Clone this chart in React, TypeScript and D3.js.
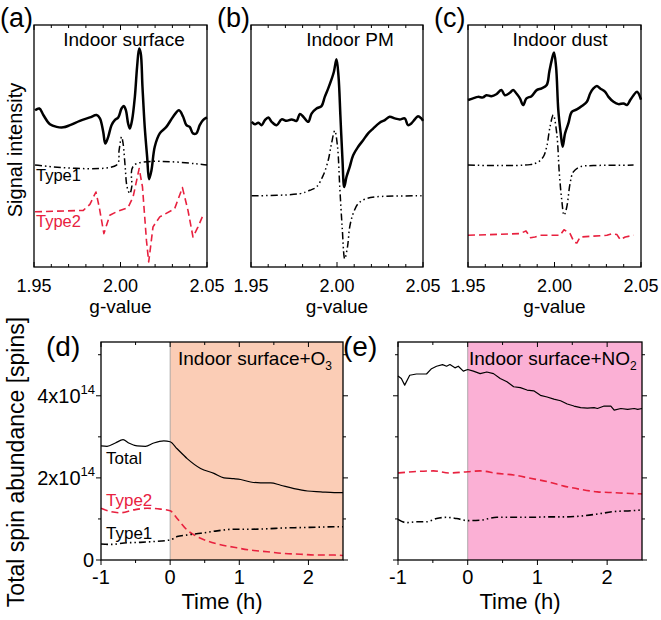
import React from 'react';
import * as d3 from 'd3';

// ---------- Data ----------
// Top panels: g-value vs. signal intensity (arbitrary units, 0-100)
const gTicks = [1.95, 2.0, 2.05];
const gTickLabels = ['1.95', '2.00', '2.05'];
const gMinor = [1.96, 1.97, 1.98, 1.99, 2.01, 2.02, 2.03, 2.04];

const aTotal: [number, number][] = [
  [1.9506, 64.8], [1.9531, 65.5], [1.9554, 62.8], [1.9592, 59.0], [1.9631, 57.9], [1.9669, 57.7],
  [1.9708, 58.6], [1.9765, 60.4], [1.9823, 61.8], [1.9862, 62.8], [1.9881, 61.4], [1.99, 55.9],
  [1.9912, 51.0], [1.9929, 53.8], [1.9948, 58.6], [1.9967, 60.7], [1.9987, 61.8], [2.0006, 65.5],
  [2.0019, 66.5], [2.0031, 64.8], [2.0044, 59.3], [2.0054, 57.2], [2.0067, 60.7], [2.0083, 70.3],
  [2.0096, 82.8], [2.0108, 90.3], [2.0117, 88.3], [2.0127, 74.5], [2.014, 57.9], [2.0154, 45.5],
  [2.0165, 36.3], [2.0179, 40.0], [2.0198, 49.7], [2.0227, 55.2], [2.0265, 57.9], [2.0304, 62.1],
  [2.0338, 64.8], [2.0362, 62.1], [2.0381, 58.6], [2.04, 57.9], [2.0419, 55.2], [2.0438, 55.2],
  [2.0458, 58.6], [2.0477, 60.7], [2.05, 61.8],
];
const aType1: [number, number][] = [
  [1.9506, 42.1], [1.9977, 42.1], [1.9992, 48.3], [2.0006, 53.8], [2.0015, 51.0], [2.0027, 41.4],
  [2.0038, 33.1], [2.0054, 30.3], [2.0065, 33.1], [2.0079, 42.1], [2.05, 42.1],
];
const aType2: [number, number][] = [
  [1.9506, 22.8], [1.9785, 23.4], [1.9823, 25.9], [1.9858, 31.0], [1.9877, 24.8], [1.9904, 13.8],
  [1.9938, 21.4], [1.9977, 22.8], [2.0044, 24.6], [2.0073, 29.0], [2.0108, 40.7], [2.0127, 33.1],
  [2.015, 11.0], [2.0163, 2.1], [2.0188, 16.6], [2.0227, 20.7], [2.0313, 24.1], [2.0358, 32.8],
  [2.039, 23.4], [2.0419, 12.4], [2.0448, 16.6], [2.0473, 20.7],
];

const bTotal: [number, number][] = [
  [1.9504, 60.0], [1.9523, 59.0], [1.9543, 59.6], [1.9562, 58.6], [1.9581, 60.7], [1.9601, 61.8],
  [1.962, 60.0], [1.9649, 58.6], [1.9678, 61.0], [1.9707, 60.4], [1.9736, 61.0], [1.9765, 60.4],
  [1.9784, 63.2], [1.9804, 62.1], [1.9833, 60.0], [1.9852, 63.4], [1.9881, 65.5], [1.991, 66.5],
  [1.9929, 70.3], [1.9949, 73.8], [1.9968, 77.5], [1.9982, 80.7], [1.9997, 85.8], [2.0009, 78.6],
  [2.002, 62.1], [2.0032, 44.1], [2.0042, 33.1], [2.0055, 37.2], [2.0074, 41.4], [2.0094, 46.2],
  [2.0123, 49.7], [2.0152, 52.4], [2.0181, 55.2], [2.021, 57.2], [2.0248, 59.6], [2.0278, 60.7],
  [2.0306, 62.1], [2.0336, 61.4], [2.0365, 61.0], [2.0394, 61.4], [2.0413, 58.6], [2.0432, 59.3],
  [2.0452, 61.0], [2.0471, 62.3], [2.049, 61.4], [2.05, 60.4],
];
const bType1: [number, number][] = [
  [1.9504, 29.4], [1.9784, 30.3], [1.9842, 31.7], [1.9881, 33.1], [1.992, 37.9], [1.9949, 44.1],
  [1.9968, 51.0], [1.9987, 56.3], [2.0003, 49.7], [2.0016, 33.1], [2.003, 16.6], [2.0045, 3.4],
  [2.0061, 8.3], [2.0074, 16.6], [2.0094, 22.1], [2.0123, 26.2], [2.0161, 28.0], [2.0229, 29.0],
  [2.05, 29.4],
];

const cTotal: [number, number][] = [
  [1.95, 69.0], [1.9529, 69.7], [1.9558, 70.3], [1.9587, 70.1], [1.9606, 71.0], [1.9635, 70.6],
  [1.9664, 71.4], [1.9693, 73.1], [1.9713, 71.0], [1.9742, 72.0], [1.9761, 73.1], [1.978, 71.7],
  [1.98, 69.7], [1.9819, 66.9], [1.9838, 69.7], [1.9867, 70.6], [1.9897, 73.1], [1.9926, 73.8],
  [1.9955, 75.2], [1.997, 80.7], [1.9984, 85.5], [1.9997, 88.6], [2.0009, 82.8], [2.0022, 64.8],
  [2.0036, 55.2], [2.0047, 49.7], [2.0061, 55.2], [2.008, 59.3], [2.01, 64.1], [2.0129, 65.1],
  [2.0158, 66.5], [2.0187, 68.3], [2.0206, 71.7], [2.0225, 73.8], [2.0245, 74.8], [2.0264, 73.8],
  [2.0293, 72.4], [2.0312, 70.3], [2.0341, 68.3], [2.037, 67.3], [2.0399, 67.6], [2.0419, 66.9],
  [2.0438, 69.0], [2.0457, 71.0], [2.0477, 72.4], [2.05, 69.2],
];
const cType1: [number, number][] = [
  [1.95, 42.1], [1.9858, 42.3], [1.9906, 43.4], [1.9935, 45.5], [1.9955, 49.7], [1.9974, 57.9],
  [1.9993, 62.8], [2.0013, 55.2], [2.0028, 38.6], [2.0042, 27.6], [2.0055, 21.4], [2.0071, 24.8],
  [2.009, 34.5], [2.0109, 39.3], [2.0148, 41.4], [2.0225, 41.9], [2.0457, 42.1],
];
const cType2: [number, number][] = [
  [1.95, 13.1], [1.98, 13.8], [1.9835, 14.9], [1.9862, 12.1], [1.9887, 12.4], [1.9916, 13.1],
  [2.0032, 13.1], [2.0055, 15.4], [2.009, 13.8], [2.0113, 10.3], [2.0129, 9.9], [2.0148, 12.4],
  [2.0303, 13.1], [2.0332, 13.8], [2.0361, 13.4], [2.038, 11.3], [2.0409, 12.4], [2.0457, 13.1],
];

// Bottom panels: time (h) vs spin abundance (x10^14 spins)
const timeTicks = [-1, 0, 1, 2];
const timeMinor = [-0.5, 0.5, 1.5];
const spinTicks = [0, 2, 4];
const spinMinor = [1, 3, 5];

const dTotal: [number, number][] = [
  [-1, 2.78], [-0.913, 2.77], [-0.792, 2.85], [-0.681, 2.93], [-0.599, 2.85], [-0.478, 2.78],
  [-0.357, 2.77], [-0.237, 2.85], [-0.092, 2.9], [0, 2.88], [0.101, 2.71], [0.246, 2.47],
  [0.44, 2.23], [0.633, 2.11], [0.778, 2.0], [0.923, 1.98], [1.019, 1.96], [1.164, 1.9],
  [1.309, 1.88], [1.454, 1.88], [1.599, 1.82], [1.792, 1.74], [1.986, 1.68], [2.179, 1.66],
  [2.372, 1.64], [2.5, 1.64],
];
const dType2: [number, number][] = [
  [-1, 1.26], [-0.865, 1.18], [-0.72, 1.15], [-0.527, 1.22], [-0.333, 1.26], [-0.14, 1.24],
  [0, 1.2], [0.101, 1.01], [0.246, 0.73], [0.44, 0.53], [0.681, 0.39], [0.923, 0.31],
  [1.164, 0.24], [1.406, 0.2], [1.647, 0.16], [1.889, 0.14], [2.13, 0.12], [2.372, 0.12], [2.5, 0.11],
];
const dType1: [number, number][] = [
  [-1, 0.39], [-0.865, 0.38], [-0.623, 0.42], [-0.43, 0.43], [-0.237, 0.45], [0, 0.49],
  [0.101, 0.57], [0.246, 0.61], [0.44, 0.65], [0.681, 0.71], [0.923, 0.75], [1.164, 0.75],
  [1.406, 0.76], [1.647, 0.78], [1.889, 0.79], [2.13, 0.8], [2.372, 0.81], [2.5, 0.81],
];

const eTotal: [number, number][] = [
  [-1, 4.48], [-0.952, 4.42], [-0.904, 4.26], [-0.832, 4.5], [-0.736, 4.53], [-0.591, 4.53],
  [-0.519, 4.66], [-0.447, 4.72], [-0.361, 4.76], [-0.303, 4.72], [-0.255, 4.76], [-0.183, 4.68],
  [-0.135, 4.72], [-0.063, 4.6], [0, 4.64], [0.082, 4.6], [0.178, 4.54], [0.274, 4.58],
  [0.37, 4.54], [0.466, 4.42], [0.563, 4.34], [0.659, 4.22], [0.755, 4.2], [0.851, 4.14],
  [0.947, 4.12], [1.043, 4.01], [1.139, 3.97], [1.236, 3.92], [1.332, 3.88], [1.428, 3.8],
  [1.524, 3.75], [1.62, 3.71], [1.716, 3.7], [1.813, 3.71], [1.861, 3.69], [1.957, 3.75],
  [2.053, 3.75], [2.101, 3.65], [2.197, 3.69], [2.293, 3.67], [2.389, 3.69], [2.438, 3.67], [2.5, 3.69],
];
const eType2: [number, number][] = [
  [-1, 2.12], [-0.784, 2.15], [-0.495, 2.17], [-0.255, 2.12], [0, 2.15], [0.178, 2.17],
  [0.418, 2.11], [0.659, 2.07], [0.899, 1.99], [1.139, 1.91], [1.38, 1.8], [1.62, 1.72],
  [1.861, 1.66], [2.101, 1.64], [2.341, 1.62], [2.5, 1.61],
];
const eType1: [number, number][] = [
  [-1, 0.99], [-0.88, 0.91], [-0.736, 0.93], [-0.591, 0.93], [-0.447, 1.01], [-0.303, 1.04],
  [-0.159, 1.01], [0, 0.96], [0.178, 0.97], [0.418, 1.04], [0.659, 1.04], [0.899, 1.04],
  [1.139, 1.05], [1.38, 1.05], [1.62, 1.07], [1.861, 1.12], [2.101, 1.18], [2.341, 1.2], [2.5, 1.22],
];

// ---------- Styles ----------
const FONT = '"Liberation Sans", Arial, sans-serif';
const RED = '#e8213f';
const DASH = '7,4';
const DASHDOTDOT = '7,3,1.5,3,1.5,3';

type Series = { data: [number, number][]; color: string; width: number; dash?: string; curve?: any };
type Note = { text: string; x: number; y: number; color: string };

function SpecPanel(props: {
  x0: number; x1: number; label: string; title: string; series: Series[];
  titleX: number; annotations?: Note[];
}) {
  const { x0, x1, label, title, series, titleX, annotations } = props;
  const y0 = 25, y1 = 267;
  const xs = d3.scaleLinear().domain([1.95, 2.05]).range([x0, x1]);
  const ys = d3.scaleLinear().domain([0, 100]).range([y1, y0]);
  const all = [...gTicks, ...gMinor];
  return (
    <g>
      {series.map((s, i) => {
        const line = d3.line<[number, number]>().x(d => xs(d[0])).y(d => ys(d[1])).curve(s.curve || d3.curveLinear);
        return <path key={i} d={line(s.data) || ''} fill="none" stroke={s.color} strokeWidth={s.width}
          strokeDasharray={s.dash} strokeLinejoin="round" />;
      })}
      <rect x={x0} y={y0} width={x1 - x0} height={y1 - y0} fill="none" stroke="#000" strokeWidth={1.3} />
      {all.map((t, i) => {
        const major = gTicks.includes(t);
        const L = major ? 5 : 3;
        return (
          <g key={i}>
            <line x1={xs(t)} x2={xs(t)} y1={y1} y2={y1 - L} stroke="#000" strokeWidth={1} />
            <line x1={xs(t)} x2={xs(t)} y1={y0} y2={y0 + L} stroke="#000" strokeWidth={1} />
          </g>
        );
      })}
      {gTicks.map((t, i) => (
        <text key={i} x={xs(t)} y={292} textAnchor="middle" fontSize={18} fontFamily={FONT}>{gTickLabels[i]}</text>
      ))}
      <text x={(x0 + x1) / 2} y={313} textAnchor="middle" fontSize={19} fontFamily={FONT}>g-value</text>
      <text x={titleX} y={46} textAnchor="middle" fontSize={19} fontFamily={FONT}>{title}</text>
      <text x={x0 - 34} y={27} fontSize={27} fontFamily={FONT}>{label}</text>
      {(annotations || []).map((a, i) => (
        <text key={i} x={a.x} y={a.y} fill={a.color} fontSize={16.5} fontFamily={FONT}>{a.text}</text>
      ))}
    </g>
  );
}

function TimePanel(props: {
  x0: number; x1: number; label: string; shade: string; series: Series[]; showLabels: boolean;
  title: React.ReactNode; titleX: number; annotations?: Note[];
}) {
  const { x0, x1, label, shade, series, showLabels, title, titleX, annotations } = props;
  const y0 = 342, y1 = 560;
  const xs = d3.scaleLinear().domain([-1, 2.5]).range([x0, x1]);
  const ys = d3.scaleLinear().domain([0, 5.31]).range([y1, y0]);
  return (
    <g>
      <rect x={xs(0)} y={y0} width={xs(2.5) - xs(0)} height={y1 - y0} fill={shade} />
      <line x1={xs(0)} x2={xs(0)} y1={y0} y2={y1} stroke="#999" strokeWidth={0.8} />
      {series.map((s, i) => {
        const line = d3.line<[number, number]>().x(d => xs(d[0])).y(d => ys(d[1])).curve(s.curve || d3.curveMonotoneX);
        return <path key={i} d={line(s.data) || ''} fill="none" stroke={s.color} strokeWidth={s.width}
          strokeDasharray={s.dash} strokeLinejoin="round" />;
      })}
      <rect x={x0} y={y0} width={x1 - x0} height={y1 - y0} fill="none" stroke="#000" strokeWidth={1.3} />
      {timeTicks.map((t, i) => (
        <g key={'t' + i}>
          <line x1={xs(t)} x2={xs(t)} y1={y1} y2={y1 + 5} stroke="#000" />
          <line x1={xs(t)} x2={xs(t)} y1={y0} y2={y0 + 5} stroke="#000" />
          <text x={xs(t)} y={584} textAnchor="middle" fontSize={20} fontFamily={FONT}>{t}</text>
        </g>
      ))}
      {timeMinor.map((t, i) => (
        <g key={'tm' + i}>
          <line x1={xs(t)} x2={xs(t)} y1={y1} y2={y1 + 3} stroke="#000" />
          <line x1={xs(t)} x2={xs(t)} y1={y0} y2={y0 + 3} stroke="#000" />
        </g>
      ))}
      {spinTicks.map((v, i) => (
        <g key={'s' + i}>
          <line x1={x0} x2={x0 - 5} y1={ys(v)} y2={ys(v)} stroke="#000" />
          <line x1={x1} x2={x1 + 5} y1={ys(v)} y2={ys(v)} stroke="#000" />
          {showLabels && (v === 0 ? (
            <text x={x0 - 7} y={ys(v) + 7} textAnchor="end" fontSize={20} fontFamily={FONT}>0</text>
          ) : (
            <text x={x0 - 6} y={ys(v) + 7} textAnchor="end" fontSize={20} fontFamily={FONT}>
              {v}x10<tspan fontSize={13} dy={-9}>14</tspan>
            </text>
          ))}
        </g>
      ))}
      {spinMinor.map((v, i) => (
        <g key={'sm' + i}>
          <line x1={x0} x2={x0 - 3} y1={ys(v)} y2={ys(v)} stroke="#000" />
          <line x1={x1} x2={x1 + 3} y1={ys(v)} y2={ys(v)} stroke="#000" />
        </g>
      ))}
      <text x={(x0 + x1) / 2} y={609} textAnchor="middle" fontSize={22} fontFamily={FONT}>Time (h)</text>
      <text x={titleX} y={365} fontSize={19} fontFamily={FONT}>{title}</text>
      <text x={x0 - 55} y={356} fontSize={28} fontFamily={FONT}>{label}</text>
      {(annotations || []).map((a, i) => (
        <text key={i} x={a.x} y={a.y} fill={a.color} fontSize={17} fontFamily={FONT}>{a.text}</text>
      ))}
    </g>
  );
}

export default function App() {
  const smooth = d3.curveCatmullRom.alpha(0.5);
  return (
    <svg width={661} height={620} style={{ position: 'absolute', left: 0, top: 0, background: '#fff' }}>
      <rect x={0} y={0} width={661} height={620} fill="#fff" />
      <SpecPanel x0={34} x1={207} label="(a)" title="Indoor surface" titleX={124}
        series={[
          { data: aType2, color: RED, width: 1.6, dash: DASH },
          { data: aType1, color: '#000', width: 1.5, dash: DASHDOTDOT, curve: smooth },
          { data: aTotal, color: '#000', width: 2.5, curve: smooth },
        ]}
        annotations={[
          { text: 'Type1', x: 36, y: 181, color: '#000' },
          { text: 'Type2', x: 36, y: 227, color: RED },
        ]}
      />
      <SpecPanel x0={251} x1={423} label="(b)" title="Indoor PM" titleX={350}
        series={[
          { data: bType1, color: '#000', width: 1.5, dash: DASHDOTDOT, curve: smooth },
          { data: bTotal, color: '#000', width: 2.5, curve: smooth },
        ]}
      />
      <SpecPanel x0={468} x1={641} label="(c)" title="Indoor dust" titleX={560}
        series={[
          { data: cType2, color: RED, width: 1.6, dash: DASH },
          { data: cType1, color: '#000', width: 1.5, dash: DASHDOTDOT, curve: smooth },
          { data: cTotal, color: '#000', width: 2.5, curve: smooth },
        ]}
      />
      <text transform="translate(22,150) rotate(-90)" textAnchor="middle" fontSize={20} fontFamily={FONT}>Signal intensity</text>

      <TimePanel x0={101} x1={343} label="(d)" shade="#fbcdb6" showLabels={true} titleX={178}
        title={<>Indoor surface+O<tspan fontSize={12} dy={5}>3</tspan></>}
        series={[
          { data: dTotal, color: '#000', width: 1.2 },
          { data: dType2, color: RED, width: 1.6, dash: DASH },
          { data: dType1, color: '#000', width: 1.6, dash: DASHDOTDOT },
        ]}
        annotations={[
          { text: 'Total', x: 106, y: 464, color: '#000' },
          { text: 'Type2', x: 106, y: 506, color: RED },
          { text: 'Type1', x: 106, y: 539, color: '#000' },
        ]}
      />
      <TimePanel x0={398} x1={642} label="(e)" shade="#fbb0d5" showLabels={false} titleX={469}
        title={<>Indoor surface+NO<tspan fontSize={12} dy={5}>2</tspan></>}
        series={[
          { data: eTotal, color: '#000', width: 1.2, curve: d3.curveLinear },
          { data: eType2, color: RED, width: 1.6, dash: DASH },
          { data: eType1, color: '#000', width: 1.6, dash: DASHDOTDOT },
        ]}
      />
      <text transform="translate(24,462) rotate(-90)" textAnchor="middle" fontSize={23} fontFamily={FONT}>Total spin abundance [spins]</text>
    </svg>
  );
}
